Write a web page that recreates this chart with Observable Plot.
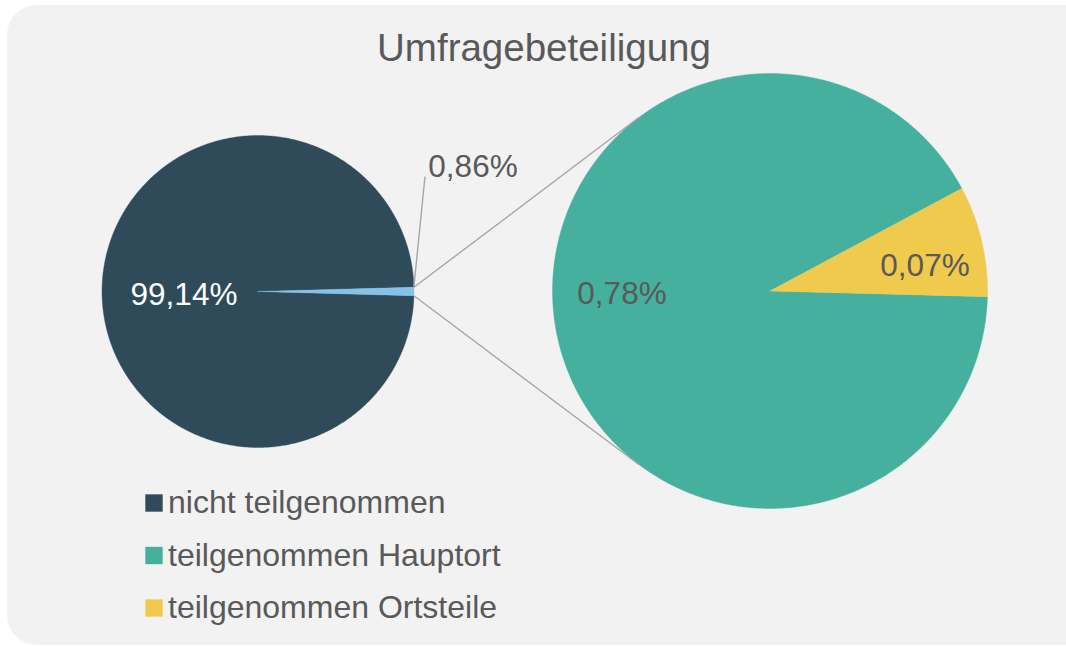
<!DOCTYPE html>
<html><head><meta charset="utf-8">
<script src="https://cdn.jsdelivr.net/npm/d3@7"></script>
<script src="https://cdn.jsdelivr.net/npm/@observablehq/plot@0.6"></script>
<style>
html,body{margin:0;padding:0;background:#fff;}
#wrap{position:relative;width:1066px;height:647px;overflow:hidden;}
#bg{position:absolute;left:7px;top:5px;width:1090px;height:640px;background:#F2F2F2;border-radius:30px;}
#chart{position:absolute;left:0;top:0;}
</style></head><body>
<div id="wrap"><div id="bg"></div><div id="chart"></div></div>
<script>
// ---- data ----
const chartTitle = "Umfragebeteiligung";
const mainCategories = ["nicht teilgenommen", "teilgenommen"];
const mainValues = [99.14, 0.86];
const subCategories = ["teilgenommen Hauptort", "teilgenommen Ortsteile"];
const subValues = [0.78, 0.07];
const legendCategories = ["nicht teilgenommen", "teilgenommen Hauptort", "teilgenommen Ortsteile"];
const colorDomain = ["nicht teilgenommen", "teilgenommen", "teilgenommen Hauptort", "teilgenommen Ortsteile"];
const colorRange = ["#2F4B5A", "#85C1E9", "#45B09E", "#F0CA4D"];

// ---- layout ----
const W = 1066, H = 647;
const FONT = "'Liberation Sans', Arial, sans-serif";
const TXT = "#595959";
const L = {cx: 257.5, cy: 291, r: 156};
const R = {cx: 769.5, cy: 290.5, r: 217.5};
const fmt = v => v.toFixed(2).replace(".", ",") + "%";
const rad = a => a * Math.PI / 180;
const pt = (c, a, k = 1) => ({x: c.cx + k * c.r * Math.cos(rad(a)), y: c.cy - k * c.r * Math.sin(rad(a))});

function slice(c, a0, a1, key) {
  const pts = [{x: c.cx, y: c.cy, key}];
  const n = Math.max(2, Math.ceil(Math.abs(a1 - a0) / 0.5));
  for (let i = 0; i <= n; i++) pts.push({...pt(c, a0 + (a1 - a0) * i / n), key});
  pts.push({x: c.cx, y: c.cy, key});
  return pts;
}

// left pie: the "teilgenommen" slice centred on 0°
const mainTotal = d3.sum(mainValues);
const half = mainValues[1] / mainTotal * 180;
const slicePts = [];
slicePts.push(...slice(L, half, 360 - half, mainCategories[0]));
slicePts.push(...slice(L, -half, half, mainCategories[1]));
// right pie
const subTotal = d3.sum(subValues);
const s0 = -1.5;
const s1 = s0 + subValues[1] / subTotal * 360;
slicePts.push(...slice(R, s1, s0 + 360, subCategories[0]));
slicePts.push(...slice(R, s0, s1, subCategories[1]));

// connector lines
const pA = pt(L, half), pB = pt(L, -half);
const qA = pt(R, 127), qB = pt(R, -127);
const links = [
  {x1: pA.x, y1: pA.y, x2: qA.x, y2: qA.y},
  {x1: pB.x, y1: pB.y, x2: qB.x, y2: qB.y},
  {x1: pA.x, y1: pA.y - 1, x2: 424.5, y2: 176}
];

const labels = [
  {x: 183.5, y: 294, t: fmt(mainValues[0]), c: "#ffffff"},
  {x: 472.5, y: 166, t: fmt(mainValues[1]), c: TXT},
  {x: 621.5, y: 293, t: fmt(subValues[0]), c: TXT},
  {x: 924.5, y: 265, t: fmt(subValues[1]), c: TXT}
];

const legend = legendCategories.map((k, i) => ({k, x: 153.5, y: 502.5 + i * 52.5}));

const plot = Plot.plot({
  width: W, height: H, margin: 0,
  x: {domain: [0, W], range: [0, W], axis: null},
  y: {domain: [0, H], range: [0, H], axis: null},
  color: {domain: colorDomain, range: colorRange},
  style: {background: "transparent", overflow: "visible"},
  marks: [
    Plot.line(slicePts, {x: "x", y: "y", z: "key", fill: "key", stroke: "key", strokeWidth: 0.4, curve: "linear"}),
    Plot.link(links, {x1: "x1", y1: "y1", x2: "x2", y2: "y2", stroke: "#A6A6A6", strokeWidth: 1.4}),
    Plot.text(labels, {x: "x", y: "y", text: "t", fill: "c", textAnchor: "middle", fontSize: 31.5, fontFamily: FONT}),
    Plot.text([chartTitle], {x: 543.5, y: 48, text: d => d, fill: TXT, fontSize: 38.5, fontFamily: FONT}),
    Plot.dot(legend, {x: "x", y: "y", symbol: "square", r: 9.8, fill: "k", stroke: null}),
    Plot.text(legend, {x: d => d.x + 14, y: "y", text: "k", textAnchor: "start", fill: TXT, fontSize: 32, fontFamily: FONT})
  ]
});
document.getElementById("chart").appendChild(plot);
</script>
</body></html>
